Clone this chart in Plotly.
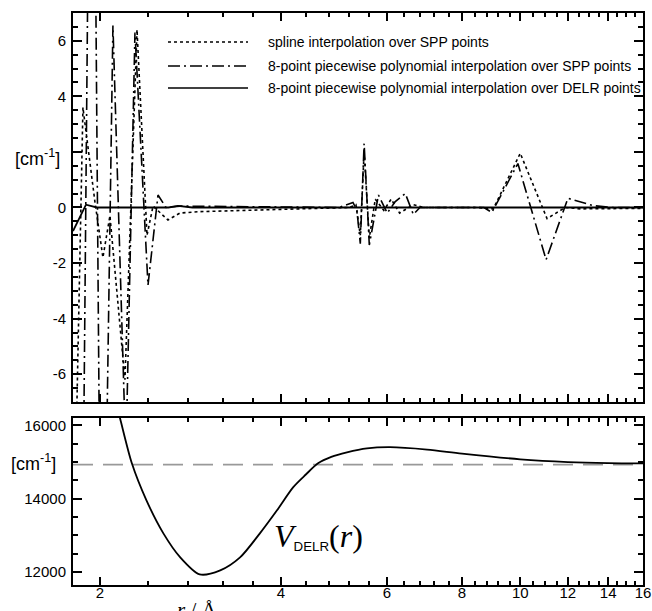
import math
import plotly.graph_objects as go

# ---------------- data ----------------
# top panel: interpolation error [cm-1] vs r [Angstrom]
spline_r = [1.804, 1.874, 1.962, 2.023, 2.078, 2.201, 2.305, 2.395, 2.451, 2.595, 2.718,
            2.934, 3.553, 4.303, 5.0, 5.2, 5.33, 5.42, 5.50, 5.61, 5.74, 5.93, 6.10, 6.30,
            6.64, 6.90, 8.5, 9.02, 10.0, 11.08, 11.88, 12.6, 16.0]
spline_v = [-14.0, 3.6, 0.2, -1.8, -0.3, -6.2, 6.4, -1.0, 0.05, -0.45, -0.2,
            -0.15, -0.1, -0.05, -0.02, 0.0, 0.1, -1.0, 2.0, -1.1, 0.3, -0.1, 0.3, -0.2,
            0.1, 0.0, 0.0, -0.05, 1.95, -0.4, 0.0, -0.05, -0.03]

poly_spp_r = [1.85, 1.940, 2.015, 2.102, 2.209, 2.287, 2.404, 2.498, 2.575, 2.718, 5.0,
              5.27, 5.35, 5.42, 5.50, 5.61, 5.81, 6.01, 6.19, 6.44, 6.64, 6.81, 8.7,
              8.97, 9.91, 11.04, 12.0, 13.2, 14.2, 16.0]
poly_spp_v = [-25.0, 25.0, -20.0, 6.55, -9.0, 6.3, -2.8, 0.45, 0.0, 0.05, 0.0,
              0.18, -0.1, -1.3, 2.3, -1.35, 0.45, -0.2, 0.2, 0.5, -0.25, 0.0, 0.0,
              -0.18, 1.58, -1.88, 0.33, 0.07, 0.0, 0.0]

poly_delr_r = [1.804, 1.896, 1.977, 2.6, 2.697, 2.85, 16.0]
poly_delr_v = [-0.85, 0.1, 0.0, 0.0, 0.06, 0.0, 0.0]

# bottom panel: potential V_DELR(r) [cm-1]
pot_r = [2.12, 2.16, 2.26, 2.39, 2.55, 2.72, 2.93, 3.17, 3.42, 3.69, 3.94, 4.19, 4.40,
         4.61, 4.85, 5.15, 5.56, 6.07, 7.0, 8.0, 10.0, 12.0, 14.0, 16.0]
pot_v = [16700, 16190, 14965, 13956, 13057, 12403, 11940, 12049, 12403, 13057, 13684,
         14311, 14660, 14965, 15140, 15264, 15373, 15405, 15340, 15229, 15074, 15000,
         14970, 14962]
asym_r = [1.804, 16.0]
asym_v = [14930, 14930]

legend_labels = ["spline interpolation over SPP points",
                 "8-point piecewise polynomial interpolation over SPP points",
                 "8-point piecewise polynomial interpolation over DELR points"]

x_major = [2, 4, 6, 8, 10, 12, 14, 16]
x_minor = [2.4, 2.8, 3.2, 3.6, 4.4, 4.8, 5.2, 5.6, 6.4, 6.8, 7.2, 7.6, 8.4, 8.8, 9.2, 9.6,
           10.5, 11, 11.5, 12.5, 13, 13.5, 14.5, 15, 15.5]
y1_ticks = [-6, -4, -2, 0, 2, 4, 6]
y1_text = ["-6", "-4", "-2", "0", " ", "4", "6"]
y1_minor = [v / 2 for v in range(-13, 14) if v % 4 != 0]
y2_ticks = [12000, 14000, 16000]
y2_text = ["12000", "14000", "16000"]
y2_minor = [11500, 12500, 13000, 13500, 14500, 15000, 15500]
x_range = [1.804, 16.0]
y1_range = [-7, 7]
y2_range = [11650, 16200]

# ---------------- figure ----------------
DASHDOT = "12px,4px,2px,4px"
fig = go.Figure()
fig.add_trace(go.Scatter(x=spline_r, y=spline_v, mode="lines", xaxis="x", yaxis="y",
                         line=dict(color="black", width=1.6, dash="dot"), showlegend=False))
fig.add_trace(go.Scatter(x=poly_spp_r, y=poly_spp_v, mode="lines", xaxis="x", yaxis="y",
                         line=dict(color="black", width=1.6, dash=DASHDOT), showlegend=False))
fig.add_trace(go.Scatter(x=poly_delr_r, y=poly_delr_v, mode="lines", xaxis="x", yaxis="y",
                         line=dict(color="black", width=1.8), showlegend=False))
fig.add_trace(go.Scatter(x=asym_r, y=asym_v, mode="lines", xaxis="x2", yaxis="y2",
                         line=dict(color="#999999", width=1.6, dash="20px,10px"), showlegend=False))
fig.add_trace(go.Scatter(x=pot_r, y=pot_v, mode="lines", xaxis="x2", yaxis="y2",
                         line=dict(color="black", width=1.8, shape="spline", smoothing=0.8),
                         showlegend=False))

TC = "black"


def minor_ticks(vals, length):
    return dict(tickmode="array", tickvals=vals, ticks="inside", ticklen=length,
                tickwidth=1.5, tickcolor=TC)


tickfont = dict(family="Liberation Sans, Arial, sans-serif", size=15, color="black")
xlog_range = [math.log10(x_range[0]), math.log10(x_range[1])]
xcommon = dict(type="log", range=xlog_range, tickmode="array", tickvals=x_major,
               ticks="inside", ticklen=8, tickwidth=2, tickcolor=TC,
               minor=minor_ticks(x_minor, 4),
               showline=True, linewidth=2, linecolor="black", mirror="ticks",
               showgrid=False, zeroline=False, tickfont=tickfont, domain=[0, 1],
               automargin=False)
ycommon = dict(ticks="inside", ticklen=9, tickwidth=2, tickcolor=TC,
               showline=True, linewidth=2, linecolor="black", mirror="ticks",
               showgrid=False, zeroline=False, tickfont=tickfont, tickmode="array",
               automargin=False, ticklabelstandoff=2)

fig.update_layout(
    width=652, height=611,
    margin=dict(l=73, r=9, t=13, b=26),
    paper_bgcolor="white", plot_bgcolor="white",
    xaxis=dict(xcommon, anchor="y", showticklabels=False),
    xaxis2=dict(xcommon, anchor="y2", matches="x", ticktext=[str(v) for v in x_major],
                ticklabelstandoff=-7),
    yaxis=dict(ycommon, domain=[0.320, 1.0], range=y1_range, tickvals=y1_ticks,
               ticktext=y1_text, anchor="x", minor=minor_ticks(y1_minor, 5)),
    yaxis2=dict(ycommon, domain=[0, 0.292], range=y2_range, tickvals=y2_ticks,
                ticktext=y2_text, anchor="x2", minor=minor_ticks(y2_minor, 5)),
)

# manual legend (paper coordinates)
leg_y = [(585 - 42) / 572, (585 - 66) / 572, (585 - 88) / 572]
leg_dash = ["dot", DASHDOT, "solid"]
for lbl, yy, dsh in zip(legend_labels, leg_y, leg_dash):
    fig.add_shape(type="line", xref="paper", yref="paper", x0=(168 - 73) / 570,
                  x1=(248 - 73) / 570, y0=yy, y1=yy,
                  line=dict(color="black", width=1.6, dash=dsh))
    fig.add_annotation(xref="paper", yref="paper", x=(266 - 73) / 570, y=yy, text=lbl,
                       showarrow=False, xanchor="left", yanchor="middle",
                       font=dict(family="Liberation Sans, Arial, sans-serif", size=14,
                                 color="black"))

unit_font = dict(family="Liberation Sans, Arial, sans-serif", size=18, color="black")
fig.add_annotation(xref="paper", yref="paper", x=(37 - 73) / 570, y=(585 - 157) / 572,
                   text="[cm<sup>-1</sup>]", showarrow=False, xanchor="center",
                   yanchor="middle", font=unit_font)
fig.add_annotation(xref="paper", yref="paper", x=(33 - 73) / 570, y=(585 - 462) / 572,
                   text="[cm<sup>-1</sup>]", showarrow=False, xanchor="center",
                   yanchor="middle", font=unit_font)

fig.add_annotation(xref="paper", yref="paper", x=(318 - 73) / 570, y=(585 - 536) / 572,
                   text="<i>V</i><span style='font-family:Liberation Sans;font-size:19px'>"
                        "<sub>DELR</sub></span>(<i>r</i>)",
                   showarrow=False, xanchor="center", yanchor="middle",
                   font=dict(family="Liberation Serif, Times New Roman, serif", size=32,
                             color="black"))

fig.add_annotation(xref="paper", yref="paper", x=(197 - 73) / 570, y=(585 - 596) / 572,
                   text="<i>r</i> / Å", showarrow=False, xanchor="center", yanchor="top",
                   font=dict(family="Liberation Serif, Times New Roman, serif", size=21,
                             color="black"))

fig.write_html("out.html", config={"displayModeBar": False},
               post_script="document.body.style.margin='0';document.body.style.padding='0';")
